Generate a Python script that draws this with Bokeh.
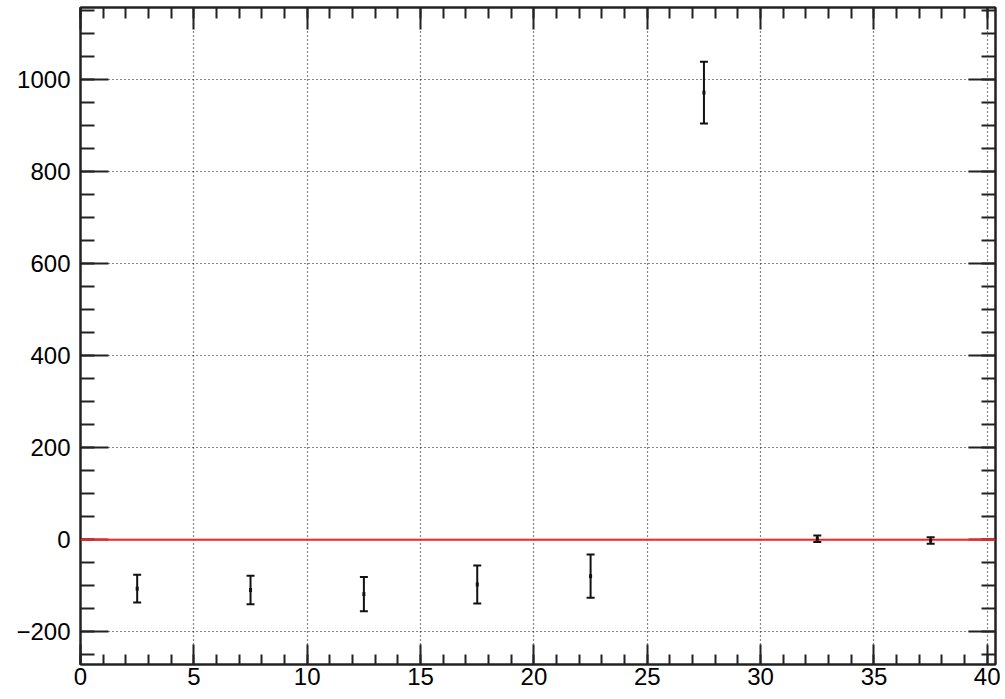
from bokeh.plotting import figure
from bokeh.models import (Range1d, LinearAxis, SingleIntervalTicker, Whisker,
                          ColumnDataSource, Span, TeeHead, CustomJSTickFormatter)
from bokeh.embed import file_html
from bokeh.resources import INLINE

# ---- data ----
bin_centers = [2.5, 7.5, 12.5, 17.5, 22.5, 27.5, 32.5, 37.5]
values = [-106, -109, -118, -97, -79, 971, 2.5, -1.5]
errors = [30, 31, 37, 41, 47, 67, 7, 7]
ref_level = 0

x_start, x_end = 0, 40.36
y_start, y_end = -270.7, 1155.7
x_major, x_minor_div = 5, 5
y_major, y_minor_div = 200, 4

lower = [v - e for v, e in zip(values, errors)]
upper = [v + e for v, e in zip(values, errors)]
src = ColumnDataSource(dict(x=bin_centers, y=values, lower=lower, upper=upper))

FONT = "Liberation Sans"
FG = "#222222"

p = figure(width=1000, height=699, x_range=Range1d(x_start, x_end),
           y_range=Range1d(y_start, y_end), output_backend="svg",
           toolbar_location=None, min_border_left=80, min_border_right=5,
           min_border_top=7, min_border_bottom=35)
p.background_fill_color = "white"
p.border_fill_color = "white"
p.outline_line_color = FG
p.outline_line_width = 2

xt = SingleIntervalTicker(interval=x_major, num_minor_ticks=x_minor_div)
yt = SingleIntervalTicker(interval=y_major, num_minor_ticks=y_minor_div)

def style_axis(ax, major_len, minor_len, show_labels, standoff):
    ax.axis_line_color = FG
    ax.axis_line_width = 2
    ax.major_tick_line_color = FG
    ax.minor_tick_line_color = FG
    ax.major_tick_line_width = 2
    ax.minor_tick_line_width = 2
    ax.major_tick_in = major_len
    ax.major_tick_out = 0
    ax.minor_tick_in = minor_len
    ax.minor_tick_out = 0
    ax.major_label_text_font = FONT
    ax.major_label_text_color = "black"
    ax.major_label_standoff = standoff
    if show_labels:
        ax.major_label_text_font_size = "24px"
    else:
        ax.formatter = CustomJSTickFormatter(code="return ''")
        ax.major_label_text_font_size = "1px"

p.xaxis.ticker = xt
p.yaxis.ticker = yt
style_axis(p.xaxis[0], 20, 10, True, 3)
style_axis(p.yaxis[0], 28, 14, True, 10)

top_ax = LinearAxis(ticker=xt)
right_ax = LinearAxis(ticker=yt)
style_axis(top_ax, 22, 11, False, 0)
style_axis(right_ax, 27, 14, False, 0)
p.add_layout(top_ax, "above")
p.add_layout(right_ax, "right")

for g in (p.xgrid[0], p.ygrid[0]):
    g.grid_line_color = "#111111"
    g.grid_line_width = 1.2
    g.grid_line_dash = "1 3"
p.xgrid.ticker = xt
p.ygrid.ticker = yt

p.add_layout(Span(location=ref_level, dimension="width",
                  line_color="#ff2020", line_width=2))

w = Whisker(source=src, base="x", lower="lower", upper="upper",
            dimension="height", line_color="#111111", line_width=2,
            upper_head=TeeHead(size=8, line_color="#111111", line_width=2),
            lower_head=TeeHead(size=8, line_color="#111111", line_width=2))
p.add_layout(w)

p.rect("x", "y", width=3, height=4, width_units="screen", height_units="screen",
       source=src, fill_color="#111111", line_color=None, level="overlay")

open("out.html", "w").write(file_html(p, INLINE))
